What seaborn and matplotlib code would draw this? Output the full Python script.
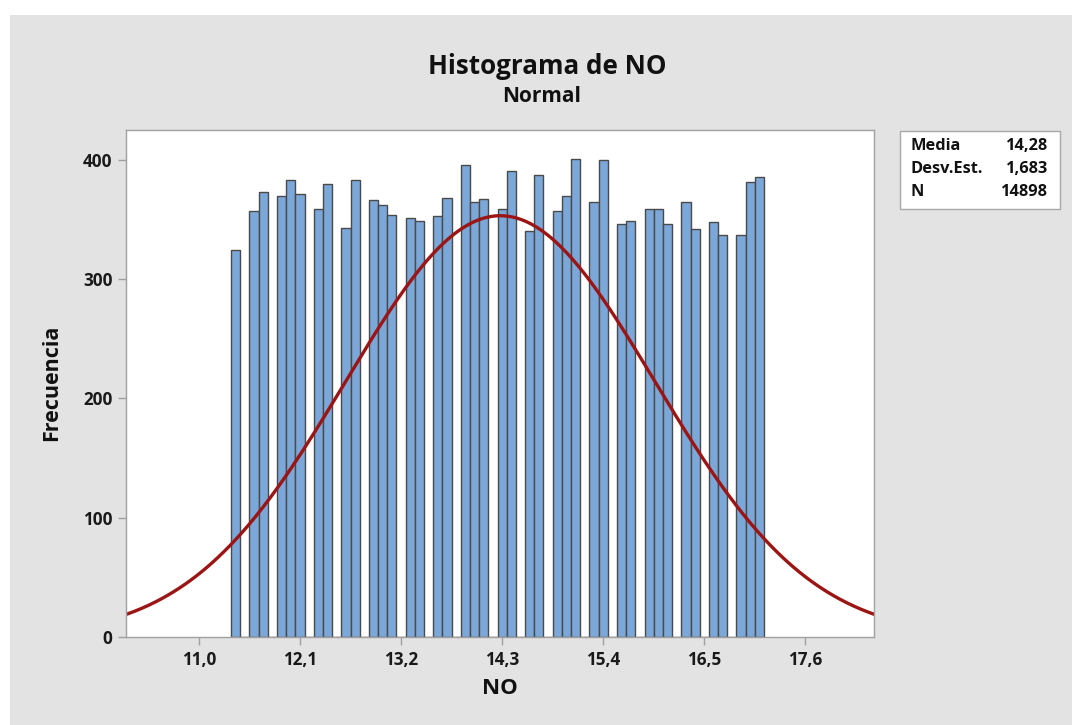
import numpy as np
import pandas as pd
import matplotlib
matplotlib.use("Agg")
import matplotlib.pyplot as plt
from matplotlib.patches import Rectangle
import seaborn as sns

# ---- data ----
bin_start = 11.35
bin_width = 0.1
counts = [324, 0, 357, 373, 0, 370, 383, 371, 0, 359, 380, 0, 343, 383, 0,
          366, 362, 354, 0, 351, 349, 0, 353, 368, 0, 396, 365, 367, 0, 359,
          391, 0, 340, 387, 0, 357, 370, 401, 0, 365, 400, 0, 346, 349, 0,
          359, 359, 346, 0, 365, 342, 0, 348, 337, 0, 337, 381, 386]
mean_val = 14.28
sd_val = 1.683
n_val = 14898
x_ticks = [11.0, 12.1, 13.2, 14.3, 15.4, 16.5, 17.6]
x_tick_labels = ["11,0", "12,1", "13,2", "14,3", "15,4", "16,5", "17,6"]
y_ticks = [0, 100, 200, 300, 400]
stats_labels = ["Media", "Desv.Est.", "N"]
stats_values = ["14,28", "1,683", "14898"]

sns.set_theme(style="white")
plt.rcParams['font.family'] = ['Open Sans', 'Noto Sans', 'DejaVu Sans']

W, H = 1072, 725
fig = plt.figure(figsize=(W / 100, H / 100), dpi=100)
fig.patch.set_facecolor("white")
fig.patches.append(Rectangle((10 / W, 0), 1 - 10 / W, 1 - 15 / H,
                             transform=fig.transFigure, facecolor="#e3e3e3",
                             edgecolor="none", zorder=-10))

ax = fig.add_axes([126.3 / W, 1 - 637 / H, (874.3 - 126.3) / W, (637 - 130) / H])
ax.set_facecolor("white")

n_bins = len(counts)
edges = [bin_start + bin_width * i for i in range(n_bins + 1)]
centers = [(edges[i] + edges[i + 1]) / 2 for i in range(n_bins)]
df = pd.DataFrame({"NO": centers, "count": counts})
sns.histplot(data=df, x="NO", weights="count", bins=edges, ax=ax,
             color="#7ba7d9", edgecolor="#4a4a4a", linewidth=1.0, alpha=1.0)

xs = np.linspace(10.21, 18.35, 400)
ys = n_val * bin_width / (sd_val * np.sqrt(2 * np.pi)) * np.exp(-0.5 * ((xs - mean_val) / sd_val) ** 2)
sns.lineplot(x=xs, y=ys, ax=ax, color="#9b1515", linewidth=2.4)

ax.set_xlim(10.21, 18.35)
ax.set_ylim(0, 425)
ax.set_xticks(x_ticks)
ax.set_xticklabels(x_tick_labels)
ax.set_yticks(y_ticks)
ax.tick_params(axis="both", which="major", direction="out", length=6, width=1,
               color="#a0a0a0", labelsize=12.3, labelcolor="#1a1a1a", pad=4,
               bottom=True, left=True)
for lab in ax.get_xticklabels() + ax.get_yticklabels():
    lab.set_fontweight("bold")
for s in ax.spines.values():
    s.set_color("#a0a0a0")
    s.set_linewidth(1.0)

ax.set_xlabel("")
ax.set_ylabel("")
fig.text(500 / W, 1 - 688 / H, "NO", ha="center", va="center", fontsize=16,
         fontweight="bold", color="#111111")
fig.text(52 / W, 1 - 383 / H, "Frecuencia", ha="center", va="center", fontsize=15.5,
         fontweight="bold", color="#111111", rotation=90)

fig.text(547 / W, 1 - 66.7 / H, "Histograma de NO", ha="center", va="center",
         fontsize=18.7, fontweight="bold", color="#111111")
fig.text(542 / W, 1 - 97 / H, "Normal", ha="center", va="center",
         fontsize=15, fontweight="bold", color="#111111")

# stats box
fig.patches.append(Rectangle((900 / W, 1 - 209 / H), 160 / W, 78 / H,
                             transform=fig.transFigure, facecolor="white",
                             edgecolor="#a8a8a8", linewidth=1.0))
row_y = [146, 169, 192.5]
for lbl, val, yy in zip(stats_labels, stats_values, row_y):
    fig.text(910.5 / W, 1 - yy / H, lbl, ha="left", va="center", fontsize=11.8,
             fontweight="bold", color="#111111")
    fig.text(1048 / W, 1 - yy / H, val, ha="right", va="center", fontsize=11.8,
             fontweight="bold", color="#111111")

fig.savefig("out.png", dpi=100)
